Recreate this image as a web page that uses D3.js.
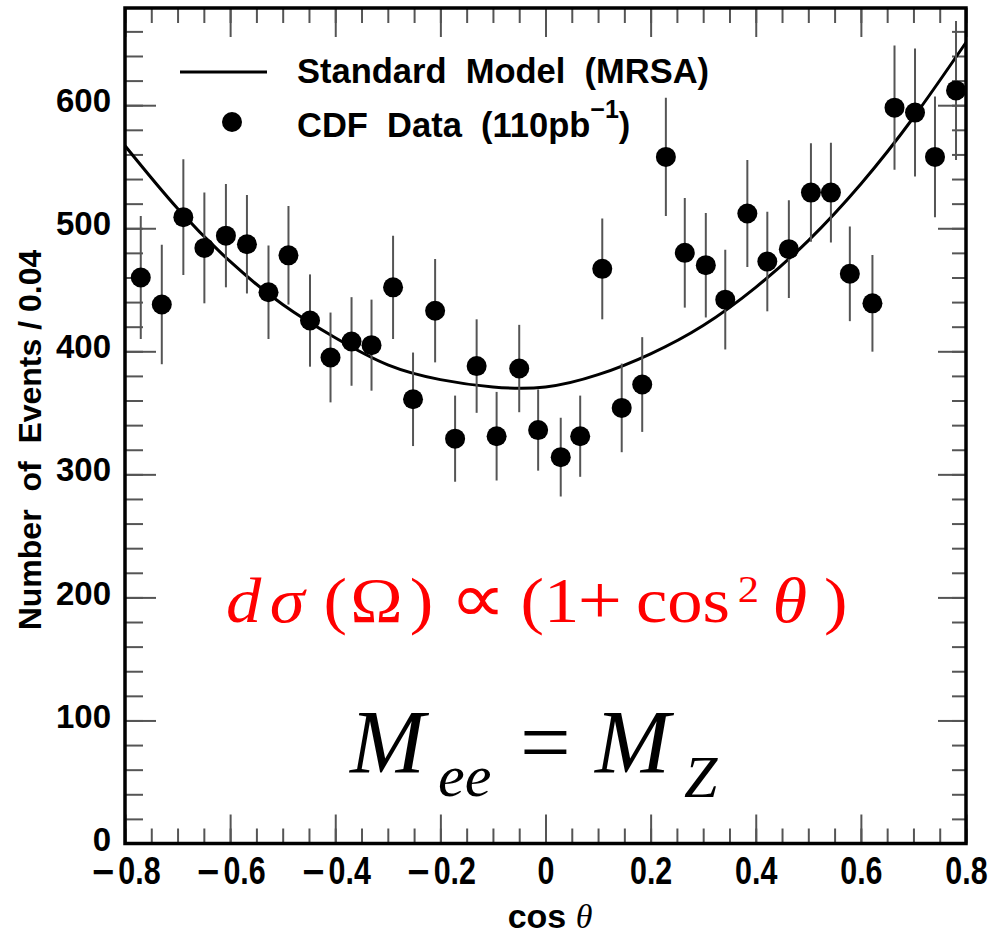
<!DOCTYPE html>
<html>
<head>
<meta charset="utf-8">
<script src="https://cdn.jsdelivr.net/npm/d3@7"></script>
<style>
  body { margin: 0; background: #fff; }
  text { white-space: pre; }
</style>
</head>
<body>
<div id="chart"></div>
<script>
const cosTheta = [-0.770, -0.730, -0.689, -0.649, -0.608, -0.568, -0.527, -0.489, -0.448, -0.409,
                  -0.369, -0.331, -0.290, -0.252, -0.210, -0.172, -0.131, -0.093, -0.050, -0.014,
                   0.029,  0.066,  0.108,  0.145,  0.184,  0.229,  0.265,  0.305,  0.342,  0.384,
                   0.422,  0.463,  0.505,  0.543,  0.579,  0.622,  0.664,  0.703,  0.741,  0.781];
const events = [460, 438, 509, 484, 494, 487, 448, 478, 425, 395,
                 408, 405, 452, 361, 433, 329, 388, 331, 386, 336,
                 314, 331, 467, 354, 373, 558, 480, 470, 442, 512,
                 473, 483, 529, 529, 463, 439, 598, 594, 558, 612];
const errors = [50, 48.5, 47, 45, 42, 40, 38, 40, 37.5, 36.5,
                36, 37, 42, 38, 42, 35, 38, 36, 35.5, 33,
                32, 33, 41, 36, 38.5, 48, 44.5, 42.5, 40.5, 43.5,
                40.5, 39.7, 40, 40.5, 38.5, 39.3, 50.5, 52, 49, 56.5];

// Standard Model (MRSA) curve, read at a few points
const smX = [-0.8, -0.7, -0.6, -0.5, -0.4, -0.3, -0.2, -0.1, 0, 0.1, 0.2, 0.3, 0.4, 0.5, 0.6, 0.7, 0.8];
const smY = [567, 516, 473, 438, 411, 389, 377, 371, 371, 381, 398, 421, 452, 490, 536, 590, 651];

const xTickLabels = ["\u22120.8", "\u22120.6", "\u22120.4", "\u22120.2", "0", "0.2", "0.4", "0.6", "0.8"];
const yTickLabels = ["0", "100", "200", "300", "400", "500", "600"];

const W = 991, H = 935;
const mLeft = 125, mRight = 966, mTop = 8, mBottom = 843.5;

const svg = d3.select('#chart').append('svg')
  .attr('width', W).attr('height', H)
  .style('font-family', '"Liberation Sans", Arial, Helvetica, sans-serif');

const x = d3.scaleLinear().domain([-0.8, 0.8]).range([mLeft, mRight]);
const y = d3.scaleLinear().domain([0, 679]).range([mBottom, mTop]);

svg.append('clipPath').attr('id', 'frame')
  .append('rect').attr('x', mLeft).attr('y', mTop)
  .attr('width', mRight - mLeft).attr('height', mBottom - mTop);

const tickColor = '#555';

function styleTicks(g) {
  g.select('.domain').remove();
  g.selectAll('.tick line').attr('stroke', tickColor).attr('stroke-width', 2);
}

// minor + major ticks on all four sides, pointing inwards
const xMajor = x.ticks(8), xMinor = x.ticks(32);
const yMajor = y.ticks(6), yMinor = y.ticks(34);

svg.append('g').attr('transform', `translate(0,${mBottom})`)
  .call(d3.axisBottom(x).tickValues(xMinor).tickSize(-15).tickFormat(''))
  .call(styleTicks);
svg.append('g').attr('transform', `translate(0,${mBottom})`)
  .call(d3.axisBottom(x).tickValues(xMajor).tickSize(-29).tickPadding(14)
    .tickFormat((d, i) => xTickLabels[i]))
  .call(styleTicks)
  .call(g => g.selectAll('.tick text')
    .attr('fill', '#000').attr('font-size', 38).attr('font-weight', 'bold')
    .attr('transform', 'scale(0.8,1)')
    .each(function() {
      // ROOT draws a heavy minus with a gap after it
      const s = d3.select(this), t = s.text();
      if (t[0] === '\u2212') {
        s.text('');
        s.append('tspan').attr('font-family', '"DejaVu Sans", sans-serif').text('\u2212');
        s.append('tspan').attr('dx', 3).text(t.slice(1));
      }
    }));

svg.append('g').attr('transform', `translate(0,${mTop})`)
  .call(d3.axisTop(x).tickValues(xMinor).tickSize(-15).tickFormat(''))
  .call(styleTicks);
svg.append('g').attr('transform', `translate(0,${mTop})`)
  .call(d3.axisTop(x).tickValues(xMajor).tickSize(-29).tickFormat(''))
  .call(styleTicks);

svg.append('g').attr('transform', `translate(${mLeft},0)`)
  .call(d3.axisLeft(y).tickValues(yMinor).tickSize(-18).tickFormat(''))
  .call(styleTicks);
svg.append('g').attr('transform', `translate(${mLeft},0)`)
  .call(d3.axisLeft(y).tickValues(yMajor).tickSize(-31).tickPadding(14)
    .tickFormat((d, i) => yTickLabels[i]))
  .call(styleTicks)
  .call(g => g.selectAll('.tick text')
    .attr('fill', '#000').attr('font-size', 33).attr('font-weight', 'bold')
    .attr('dy', '0.2em'));

svg.append('g').attr('transform', `translate(${mRight},0)`)
  .call(d3.axisRight(y).tickValues(yMinor).tickSize(-14).tickFormat(''))
  .call(styleTicks);
svg.append('g').attr('transform', `translate(${mRight},0)`)
  .call(d3.axisRight(y).tickValues(yMajor).tickSize(-28).tickFormat(''))
  .call(styleTicks);

const plot = svg.append('g').attr('clip-path', 'url(#frame)');

// SM curve
const line = d3.line()
  .x((d, i) => x(smX[i]))
  .y(d => y(d))
  .curve(d3.curveNatural);
plot.append('path')
  .datum(smY)
  .attr('d', line)
  .attr('fill', 'none')
  .attr('stroke', '#000')
  .attr('stroke-width', 3);

// error bars
plot.selectAll('line.err')
  .data(events)
  .join('line')
  .attr('class', 'err')
  .attr('x1', (d, i) => x(cosTheta[i]))
  .attr('x2', (d, i) => x(cosTheta[i]))
  .attr('y1', (d, i) => y(d - errors[i]))
  .attr('y2', (d, i) => y(d + errors[i]))
  .attr('stroke', tickColor)
  .attr('stroke-width', 2);

// data points
plot.selectAll('circle.pt')
  .data(events)
  .join('circle')
  .attr('class', 'pt')
  .attr('cx', (d, i) => x(cosTheta[i]))
  .attr('cy', d => y(d))
  .attr('r', 10)
  .attr('fill', '#000');

// frame
svg.append('rect')
  .attr('x', mLeft).attr('y', mTop)
  .attr('width', mRight - mLeft).attr('height', mBottom - mTop)
  .attr('fill', 'none').attr('stroke', '#000').attr('stroke-width', 3.5);

// legend
const lg = svg.append('g').attr('font-weight', 'bold').attr('font-size', 34.5);
lg.append('line').attr('x1', 180).attr('x2', 267).attr('y1', 72).attr('y2', 72)
  .attr('stroke', '#000').attr('stroke-width', 3);
lg.append('circle').attr('cx', 232).attr('cy', 122).attr('r', 10).attr('fill', '#000');
lg.append('text').attr('x', 297).attr('y', 83).text('Standard  Model  (MRSA)');
const t2 = lg.append('text').attr('x', 297).attr('y', 137);
t2.append('tspan').text('CDF  Data  (110pb');
t2.append('tspan').attr('font-size', 25).attr('dy', -19).text('\u22121');
t2.append('tspan').attr('dy', 19).text(')');

// axis titles
svg.append('text')
  .attr('transform', 'translate(30,440) rotate(-90)')
  .attr('text-anchor', 'middle')
  .attr('dominant-baseline', 'central')
  .attr('font-weight', 'bold')
  .attr('font-size', 32)
  .text('Number  of  Events / 0.04');

const xt = svg.append('text')
  .attr('x', 550).attr('y', 928)
  .attr('text-anchor', 'middle')
  .attr('font-weight', 'bold')
  .attr('font-size', 34);
xt.append('tspan').text('cos ');
xt.append('tspan').attr('font-family', '"Liberation Serif", serif')
  .attr('font-style', 'italic').attr('font-weight', 'normal').text('\u03b8');

// formula annotations (equation-editor style, a little wider than tall)
const serif = '"Liberation Serif", "Times New Roman", serif';
const f1 = svg.append('text')
  .attr('transform', 'translate(226,622) scale(1.12,1)')
  .attr('fill', '#ff0000')
  .attr('font-family', serif).attr('font-size', 63);
[
  ['d', 0, 0, true], ['\u03c3', 39, 0, true], ['(', 87, 0, false], ['\u03a9', 111, 0, false],
  [')', 164, 0, false], ['\u221d', 200, 0, false, 70], ['(', 263, 0, false], ['1', 284, 0, false],
  ['+', 314, 2, false, 70], ['cos', 366, 0, false], ['\u03b8', 488, 0, true], [')', 534, 0, false]
].forEach(([s, px, py, it, fs]) => {
  const ts = f1.append('tspan').attr('x', px).attr('y', py)
    .attr('font-style', it ? 'italic' : 'normal').text(s);
  if (fs) ts.attr('font-size', fs);
});
f1.append('tspan').attr('x', 457).attr('y', -20).attr('font-size', 38).text('2');

const f2 = svg.append('text').attr('fill', '#000').attr('font-family', serif);
f2.append('tspan').attr('x', 350).attr('y', 773).attr('font-size', 90).attr('font-style', 'italic').text('M');
f2.append('tspan').attr('x', 438).attr('y', 796).attr('font-size', 60).attr('font-style', 'italic').text('ee');
f2.append('tspan').attr('x', 520).attr('y', 773).attr('font-size', 90).text('=');
f2.append('tspan').attr('x', 595).attr('y', 773).attr('font-size', 90).attr('font-style', 'italic').text('M');
f2.append('tspan').attr('x', 684).attr('y', 797).attr('font-size', 60).attr('font-style', 'italic').text('Z');
</script>
</body>
</html>
